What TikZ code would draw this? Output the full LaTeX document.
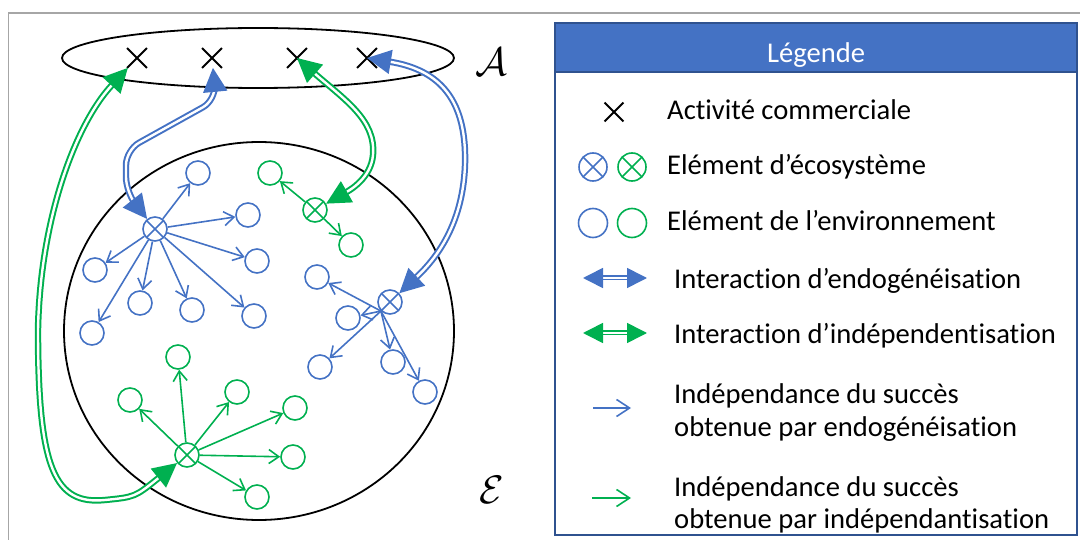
\documentclass[tikz,border=0pt]{standalone}
\usepackage{fontspec}
\setmainfont{Carlito}[Ligatures=NoCommon]
\usetikzlibrary{arrows.meta,shapes.geometric,shapes.misc}

\definecolor{ecoblue}{HTML}{4472C4}
\definecolor{ecogreen}{HTML}{00B050}
\definecolor{legborder}{HTML}{2F528F}
\definecolor{framegrey}{HTML}{A6A6A6}

\tikzset{
  envnode/.style={circle, draw, line width=1.6pt, minimum size=24pt, inner sep=0pt},
  econode/.style={envnode, path picture={
      \draw[line width=1.6pt] (path picture bounding box.north west) -- (path picture bounding box.south east)
        (path picture bounding box.south west) -- (path picture bounding box.north east);}},
  activity/.style={cross out, draw, line width=1.8pt, minimum size=18pt, inner sep=0pt},
  succ/.style={-{Straight Barb[length=10pt,width=14pt]}, line width=1.6pt},
  interact/.style={{Triangle[length=24pt,width=24pt]}-{Triangle[length=24pt,width=24pt]},
    double, double distance=2.4pt, line width=2pt},
  legint/.style={{Triangle[length=20pt,width=20pt]}-{Triangle[length=20pt,width=20pt]},
    double, double distance=1.8pt, line width=1.6pt},
  legsucc/.style={-{Straight Barb[length=13pt,width=17pt]}, line width=1.6pt},
  legtext/.style={anchor=base west, inner sep=0pt, font=\fontsize{28.6}{33}\selectfont},
  setlabel/.style={font=\fontsize{24}{28}\selectfont},
}

\begin{document}
\begin{tikzpicture}[x=1pt,y=-1pt]
\useasboundingbox (0,0) rectangle (1080,540);
\draw[framegrey, line width=1.5pt] (8.5,540) -- (8.5,13) -- (1080,13);

% activites et ecosysteme
\node[draw, ellipse, line width=1.8pt, minimum width=392pt, minimum height=60pt, inner sep=0pt] (act) at (258,58) {};
\node[draw, ellipse, line width=1.8pt, minimum width=390pt, minimum height=378pt, inner sep=0pt] (env) at (259,331) {};
\node[setlabel] (lblA) at (491,62) {\scalebox{1.6}{$\mathcal{A}$}};
\node[setlabel] (lblE) at (492,490) {\scalebox{1.6}{$\mathcal{E}$}};

\node[activity] (a1) at (137,58) {};
\node[activity] (a2) at (212,58) {};
\node[activity] (a3) at (297,58) {};
\node[activity] (a4) at (367,58) {};

% premier element bleu
\node[econode, ecoblue] (eb1) at (155,229) {};
\node[envnode, ecoblue] (b1) at (198,173) {};
\node[envnode, ecoblue] (b2) at (248,215) {};
\node[envnode, ecoblue] (b3) at (257,261) {};
\node[envnode, ecoblue] (b4) at (254,316) {};
\node[envnode, ecoblue] (b5) at (192,310) {};
\node[envnode, ecoblue] (b6) at (140,303) {};
\node[envnode, ecoblue] (b7) at (95,270) {};
\node[envnode, ecoblue] (b8) at (92,333) {};
\foreach \c in {b1,b2,b3,b4,b5,b6,b7,b8}
  \draw[succ, ecoblue] (eb1) -- (\c);

% second element bleu
\node[econode, ecoblue] (eb2) at (390,302) {};
\node[envnode, ecoblue] (c1) at (317,277) {};
\node[envnode, ecoblue] (c2) at (348,318) {};
\node[envnode, ecoblue] (c3) at (320,367) {};
\node[envnode, ecoblue] (c4) at (393,362) {};
\node[envnode, ecoblue] (c5) at (425,392) {};
\foreach \c in {c1,c2,c3,c4,c5}
  \draw[succ, ecoblue] (eb2.south west) -- (\c);

% element vert du haut
\node[econode, ecogreen] (eg2) at (315,210) {};
\node[envnode, ecogreen] (g1) at (270,173) {};
\node[envnode, ecogreen] (g2) at (351,245) {};
\foreach \c in {g1,g2}
  \draw[succ, ecogreen] (eg2) -- (\c);

% element vert du bas
\node[econode, ecogreen] (eg3) at (187,455) {};
\node[envnode, ecogreen] (h1) at (178,357) {};
\node[envnode, ecogreen] (h2) at (130,400) {};
\node[envnode, ecogreen] (h3) at (237,392) {};
\node[envnode, ecogreen] (h4) at (295,408) {};
\node[envnode, ecogreen] (h5) at (293,457) {};
\node[envnode, ecogreen] (h6) at (257,497) {};
\foreach \c in {h1,h2,h3,h4,h5,h6}
  \draw[succ, ecogreen] (eg3) -- (\c);

% interactions
\draw[interact, ecoblue, rounded corners=15pt] (a2) -- (216,100) -- (126,150) -- (126,192) -- (eb1);
\draw[interact, ecoblue] (a4.center) .. controls (440,70) and (467,100) .. (465,165)
  .. controls (463,220) and (440,255) .. (eb2);
\draw[interact, ecogreen] (a3.center) .. controls (345,100) and (376,120) .. (373,155)
  .. controls (371,178) and (350,190) .. (eg2);
\draw[interact, ecogreen] (a1) .. controls (75,125) and (40,220) .. (38,330)
  .. controls (38,470) and (55,505) .. (105,500) .. controls (135,497) .. (eg3);

% legende
\fill[ecoblue] (555,23) rectangle (1077,72);
\draw[legborder, line width=2pt] (555,23) rectangle (1077,535);
\draw[legborder, line width=1.5pt] (555,72) -- (1077,72);
\node[anchor=base, inner sep=0pt, white, font=\fontsize{28.6}{33}\selectfont] (legtitle) at (816,63) {Légende};

\node[activity, minimum size=17pt] (la) at (614,112) {};
\node[legtext] (t1) at (667,120) {Activité commerciale};
\node[econode, ecoblue, minimum size=28pt] (lb1) at (593,167) {};
\node[econode, ecogreen, minimum size=28pt] (lb2) at (632,167) {};
\node[legtext] (t2) at (667,175) {Elément d’écosystème};
\node[envnode, ecoblue, minimum size=29pt] (lc1) at (593,223) {};
\node[envnode, ecogreen, minimum size=29pt] (lc2) at (632,223) {};
\node[legtext] (t3) at (667,231) {Elément de l’environnement};

\coordinate (le1) at (583,278);
\coordinate (le2) at (647,278);
\draw[legint, ecoblue] (le1) -- (le2);
\node[legtext] (t4) at (674,289) {Interaction d’endogénéisation};
\coordinate (lf1) at (583,333);
\coordinate (lf2) at (647,333);
\draw[legint, ecogreen] (lf1) -- (lf2);
\node[legtext] (t5) at (674,344) {Interaction d’indépendentisation};

\coordinate (ls1) at (593,408);
\coordinate (ls2) at (631,408);
\draw[legsucc, ecoblue] (ls1) -- (ls2);
\node[legtext] (t6) at (674,403) {Indépendance du succès};
\node[legtext] (t7) at (674,436) {obtenue par endogénéisation};
\coordinate (lt1) at (592,498);
\coordinate (lt2) at (631,498);
\draw[legsucc, ecogreen] (lt1) -- (lt2);
\node[legtext] (t8) at (674,496) {Indépendance du succès};
\node[legtext] (t9) at (674,528) {obtenue par indépendantisation};
\end{tikzpicture}
\end{document}
